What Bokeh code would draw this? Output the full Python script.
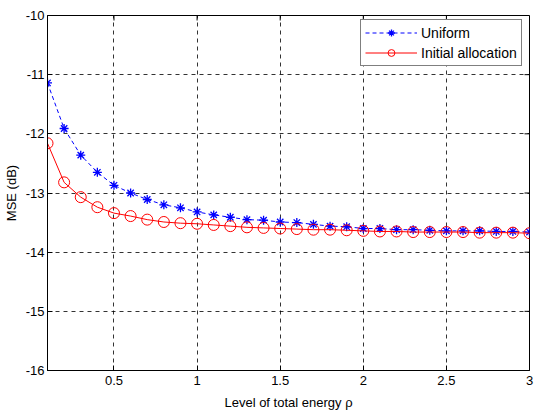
from bokeh.plotting import figure
from bokeh.models import Range1d, FixedTicker, Legend, LegendItem
from bokeh.embed import file_html
from bokeh.resources import INLINE

# Total energy levels (rho)
rho = [0.1, 0.2, 0.3, 0.4, 0.5, 0.6, 0.7, 0.8, 0.9, 1.0,
       1.1, 1.2, 1.3, 1.4, 1.5, 1.6, 1.7, 1.8, 1.9, 2.0,
       2.1, 2.2, 2.3, 2.4, 2.5, 2.6, 2.7, 2.8, 2.9, 3.0]

# MSE in dB for each allocation scheme
mse_uniform = [-11.14, -11.91, -12.36, -12.65, -12.87, -13.00, -13.11, -13.20, -13.25, -13.32,
               -13.37, -13.41, -13.45, -13.46, -13.49, -13.50, -13.53, -13.56, -13.57, -13.60,
               -13.60, -13.62, -13.62, -13.63, -13.64, -13.64, -13.64, -13.65, -13.65, -13.66]
mse_initial = [-12.16, -12.82, -13.07, -13.24, -13.34, -13.39, -13.45, -13.49, -13.51, -13.52,
               -13.54, -13.56, -13.58, -13.59, -13.60, -13.61, -13.62, -13.62, -13.63, -13.64,
               -13.65, -13.65, -13.66, -13.66, -13.66, -13.66, -13.67, -13.67, -13.67, -13.68]

x_ticks = [0.5, 1, 1.5, 2, 2.5, 3]
y_ticks = [-16, -15, -14, -13, -12, -11, -10]
y_tick_labels = ["-16", "-15", "-14", "-13", "-12", "-11", "-10"]

X_MIN, X_MAX = 0.1, 3.0
Y_MIN, Y_MAX = -16, -10

FONT = "Liberation Sans"

p = figure(width=535, height=414, output_backend="svg", toolbar_location=None,
           x_range=Range1d(X_MIN, X_MAX), y_range=Range1d(Y_MIN, Y_MAX),
           min_border_left=46, min_border_right=6, min_border_top=15, min_border_bottom=44)
p.background_fill_color = "white"
p.border_fill_color = "white"
p.outline_line_color = "black"
p.outline_line_width = 1

for ax in (p.xaxis[0], p.yaxis[0]):
    ax.major_tick_in = 5
    ax.major_tick_out = 0
    ax.minor_tick_in = 0
    ax.minor_tick_out = 0
    ax.axis_line_color = "black"
    ax.major_tick_line_color = "black"
    ax.major_label_text_font = FONT
    ax.major_label_text_font_size = "13px"
    ax.major_label_text_color = "black"
    ax.axis_label_text_font = FONT
    ax.axis_label_text_font_size = "13px"
    ax.axis_label_text_font_style = "normal"
    ax.axis_label_text_color = "black"

p.xaxis[0].ticker = FixedTicker(ticks=x_ticks)
p.yaxis[0].ticker = FixedTicker(ticks=y_ticks)
# plain hyphen-minus on the y tick labels
p.yaxis[0].major_label_overrides = dict(zip(y_ticks, y_tick_labels))
p.xaxis[0].major_label_standoff = 5
p.yaxis[0].major_label_standoff = 3
p.xaxis[0].axis_label = "Level of total energy ρ"
p.yaxis[0].axis_label = "MSE (dB)"
p.xaxis[0].axis_label_standoff = 7
p.yaxis[0].axis_label_standoff = 4

for g in (p.xgrid[0], p.ygrid[0]):
    g.grid_line_color = "black"
    g.grid_line_alpha = 0.8
    g.grid_line_dash = "4 4"
    g.grid_line_width = 1
p.xgrid[0].ticker = FixedTicker(ticks=x_ticks)
p.ygrid[0].ticker = FixedTicker(ticks=y_ticks)

# Inward tick marks along the top and right edges of the box
tick_dy = (Y_MAX - Y_MIN) * 5 / 355
tick_dx = (X_MAX - X_MIN) * 5 / 483
p.segment(x0=x_ticks, y0=[Y_MAX] * len(x_ticks), x1=x_ticks, y1=[Y_MAX - tick_dy] * len(x_ticks),
          line_color="black", line_width=1)
p.segment(x0=[X_MAX] * len(y_ticks), y0=y_ticks, x1=[X_MAX - tick_dx] * len(y_ticks), y1=y_ticks,
          line_color="black", line_width=1)

l1 = p.line(rho, mse_uniform, line_color="blue", line_dash="4 3", line_width=1)
m1 = p.scatter(rho, mse_uniform, marker="asterisk", size=9, line_color="blue", line_width=1.3)
l2 = p.line(rho, mse_initial, line_color="red", line_width=1)
m2 = p.scatter(rho, mse_initial, marker="circle", size=11, line_color="red",
               fill_color=None, line_width=1)

legend = Legend(items=[LegendItem(label="Uniform", renderers=[l1, m1]),
                       LegendItem(label="Initial allocation", renderers=[l2, m2])],
                location=(313, 304))
legend.label_text_font = FONT
legend.label_text_font_size = "14px"
legend.label_text_color = "black"
legend.glyph_width = 52
legend.glyph_height = 17
legend.label_height = 17
legend.label_standoff = 4
legend.spacing = 3
legend.padding = 4
legend.margin = 0
legend.border_line_color = "black"
legend.border_line_width = 1
legend.background_fill_alpha = 1
p.add_layout(legend)

open("out.html", "w").write(file_html(p, INLINE))
